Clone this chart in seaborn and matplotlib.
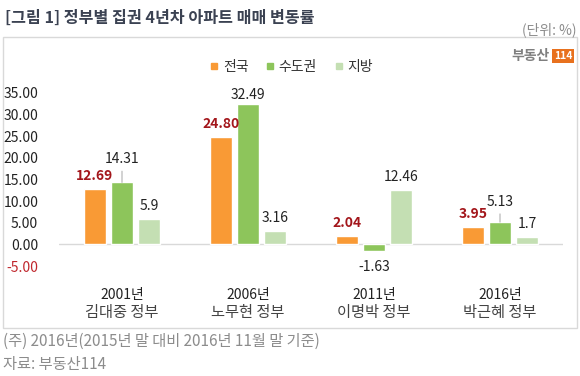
import matplotlib
matplotlib.use("Agg")
import matplotlib.pyplot as plt
from matplotlib.patches import Rectangle
from matplotlib.lines import Line2D
import seaborn as sns
import pandas as pd

years = ["2001년", "2006년", "2011년", "2016년"]
govts = ["김대중 정부", "노무현 정부", "이명박 정부", "박근혜 정부"]
regions = ["전국", "수도권", "지방"]
nation = [12.69, 24.80, 2.04, 3.95]
capital = [14.31, 32.49, -1.63, 5.13]
local = [5.9, 3.16, 12.46, 1.7]
local_labels = ["5.9", "3.16", "12.46", "1.7"]
yticks = [-5, 0, 5, 10, 15, 20, 25, 30, 35]

colors = ["#F99A35", "#8DC55B", "#C4DFB3"]

sns.set_theme(style="white")
plt.rcParams["font.family"] = ["Noto Sans CJK KR", "DejaVu Sans"]

df = pd.DataFrame({
    "year": years * 3,
    "region": [r for r in regions for _ in years],
    "value": nation + capital + local,
})

fig = plt.figure(figsize=(5.8, 3.76), dpi=100)
ax = fig.add_axes([59 / 580, 1 - 266 / 376, 504 / 580, 173 / 376])

sns.barplot(data=df, x="year", y="value", hue="region", hue_order=regions,
            palette=colors, width=0.65, gap=0.2, ax=ax, legend=False,
            saturation=1)

ax.set_xlim(-0.5, 3.5)
ax.set_ylim(-5, 35)
ax.set_yticks(yticks)
ax.set_yticklabels([f"{v:.2f}" for v in yticks], fontsize=10, color="#222222")
ax.get_yticklabels()[0].set_color("#C0272D")
ax.tick_params(axis="y", length=0, pad=15)
ax.set_xticks(range(len(years)))
ax.set_xticklabels(years, fontsize=10, color="#222222")
ax.tick_params(axis="x", length=0, pad=16)
ax.set_xlabel("")
ax.set_ylabel("")
for s in ax.spines.values():
    s.set_visible(False)
ax.axhline(0, color="#D9D9D9", lw=1, zorder=0)

for i, g in enumerate(govts):
    ax.annotate(g, xy=(i, 0), xycoords=("data", "axes fraction"),
                xytext=(0, -47), textcoords="offset pixels",
                ha="center", va="center", fontsize=11, color="#444444")

# value labels
label_sets = [[f"{v:.2f}" for v in nation], [f"{v:.2f}" for v in capital], local_labels]
raised = {(1, 0): 23, (1, 3): 20, (1, 1): 9}
for si, cont in enumerate(ax.containers):
    for ci, bar in enumerate(cont):
        h = bar.get_height()
        x = bar.get_x() + bar.get_width() / 2
        off = raised.get((si, ci), 13)
        if h < 0:
            off = -16
        kw = dict(ha="center", va="center", fontsize=10,
                  textcoords="offset pixels", xytext=(0, off))
        if si == 0:
            kw.update(color="#A3161B", fontweight="bold")
        else:
            kw.update(color="#222222")
        if (si, ci) in raised and off > 15:
            kw["arrowprops"] = dict(arrowstyle="-", color="#A6A6A6", lw=0.7,
                                    shrinkA=1, shrinkB=0)
        ax.annotate(label_sets[si][ci], xy=(x, h), **kw)

# legend
handles = [Line2D([], [], marker="s", ls="", color=c, markersize=5) for c in colors]
fig.legend(handles, regions, loc="center", bbox_to_anchor=(291 / 580, 1 - 67 / 376),
           ncol=3, frameon=False, fontsize=10, handletextpad=0.2,
           columnspacing=1.2, handlelength=0.8, labelcolor="#333333")

# frame, title, notes
fig.patches.append(Rectangle((3 / 580, 1 - 328 / 376), 574 / 580, 291 / 376,
                             transform=fig.transFigure, fill=False,
                             edgecolor="#D9D9D9", lw=1))
fig.text(5 / 580, 1 - 18 / 376, "[그림 1] 정부별 집권 4년차 아파트 매매 변동률",
         fontsize=11.6, fontweight="bold", color="#3B4252", va="center", ha="left")
fig.text(576 / 580, 1 - 30 / 376, "(단위: %)", fontsize=10, color="#8C8C8C",
         va="center", ha="right")
fig.text(550 / 580, 1 - 56 / 376, "부동산", fontsize=10, fontweight="bold",
         color="#7F7F7F", va="center", ha="right")
fig.text(554 / 580, 1 - 56 / 376, "114", fontsize=7.5, fontweight="bold",
         color="white", va="center", ha="left",
         bbox=dict(boxstyle="square,pad=0.15", fc="#E8711E", ec="none"))
fig.text(3 / 580, 1 - 341 / 376, "(주) 2016년(2015년 말 대비 2016년 11월 말 기준)",
         fontsize=11, color="#8C8C8C", va="center", ha="left")
fig.text(3 / 580, 1 - 364 / 376, "자료: 부동산114", fontsize=11, color="#8C8C8C",
         va="center", ha="left")

fig.savefig("out.png", dpi=100)
